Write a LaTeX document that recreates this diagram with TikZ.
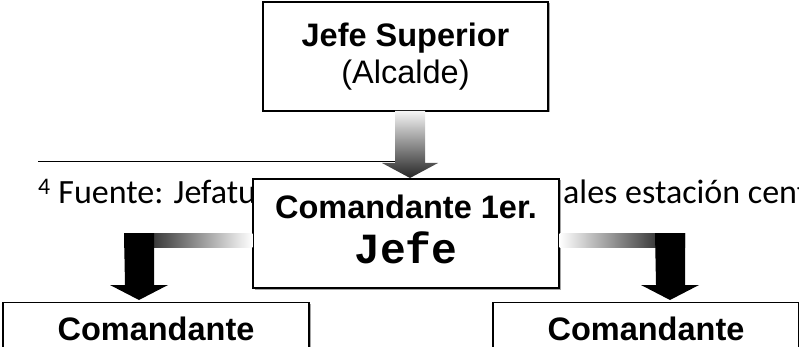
\documentclass[tikz,border=0pt]{standalone}
\usepackage{fontspec}
\setmainfont{Liberation Sans}
\newfontfamily\jefemono{Liberation Mono}
\newfontfamily\notefont{Carlito}
\usetikzlibrary{calc}
\usetikzlibrary{shadows}

\begin{document}
\begin{tikzpicture}[x=1pt,y=-1pt,
	every node/.style={inner sep=0pt},
	cargo/.style={draw,line width=1.4pt,fill=white,align=center,
		drop shadow={shadow xshift=1.5pt,shadow yshift=-1.5pt,fill=gray!70,opacity=1},
		font=\fontsize{32.5}{37}\selectfont},
	baja/.style={cargo,anchor=north,minimum width=306pt,text height=23pt,text depth=40pt,inner ysep=15pt}]
\useasboundingbox (0,0) rectangle (799,347);

% nota al pie (queda tapada por la caja central)
\node[anchor=base west,font=\notefont\fontsize{34}{38}\selectfont] (nota) at (38,204) {\textsuperscript{4} Fuente: Jefatu};
\node[anchor=base west,font=\notefont\fontsize{34}{38}\selectfont] (nota2) at (563,204) {ales estación centr};
\draw[line width=1pt] (38,162) coordinate (ra) -- (400,162) coordinate (rb);

\node[cargo,minimum width=285pt,minimum height=109pt] (sup) at (405.5,56.5)
	{\textbf{Jefe Superior}\\(Alcalde)};
\node[cargo,minimum width=306pt,minimum height=109pt] (com) at (406,233.5)
	{\textbf{Comandante 1er.}\\[8pt]{\jefemono\bfseries\fontsize{43}{45}\selectfont Jefe}\rule[-8pt]{0pt}{8pt}};
\node[baja] (izq) at (156,302) {\textbf{Comandante}};
\node[baja] (der) at (646,302) {\textbf{Comandante}};

\coordinate (tipM) at (410,178);
\coordinate (tipL) at (139,300);
\coordinate (tipR) at (670,300);

% flecha gris
\shade[top color=gray!8,bottom color=black!85] ($(tipM)+(-15,-67)$) -- ++(30,0) -- ++(0,52)
	-- ++(13,0) -- (tipM) -- ++(-28,-15) -- ++(13,0) -- cycle;

\foreach \tip/\lado/\o/\lc/\rc in {tipL/west/-15/black/white, tipR/east/15/white/black}{
	\shade[left color=\lc,right color=\rc] ($(\tip)+(\o,-67)$) rectangle ($(com.\lado |- \tip)+(0,-53)$);
	\fill ($(\tip)+(-15,-67)$) -- ++(30,0) -- ++(0,52) -- ++(14,0) -- (\tip)
		-- ++(-29,-15) -- ++(15,0) -- cycle;
}
\end{tikzpicture}
\end{document}
